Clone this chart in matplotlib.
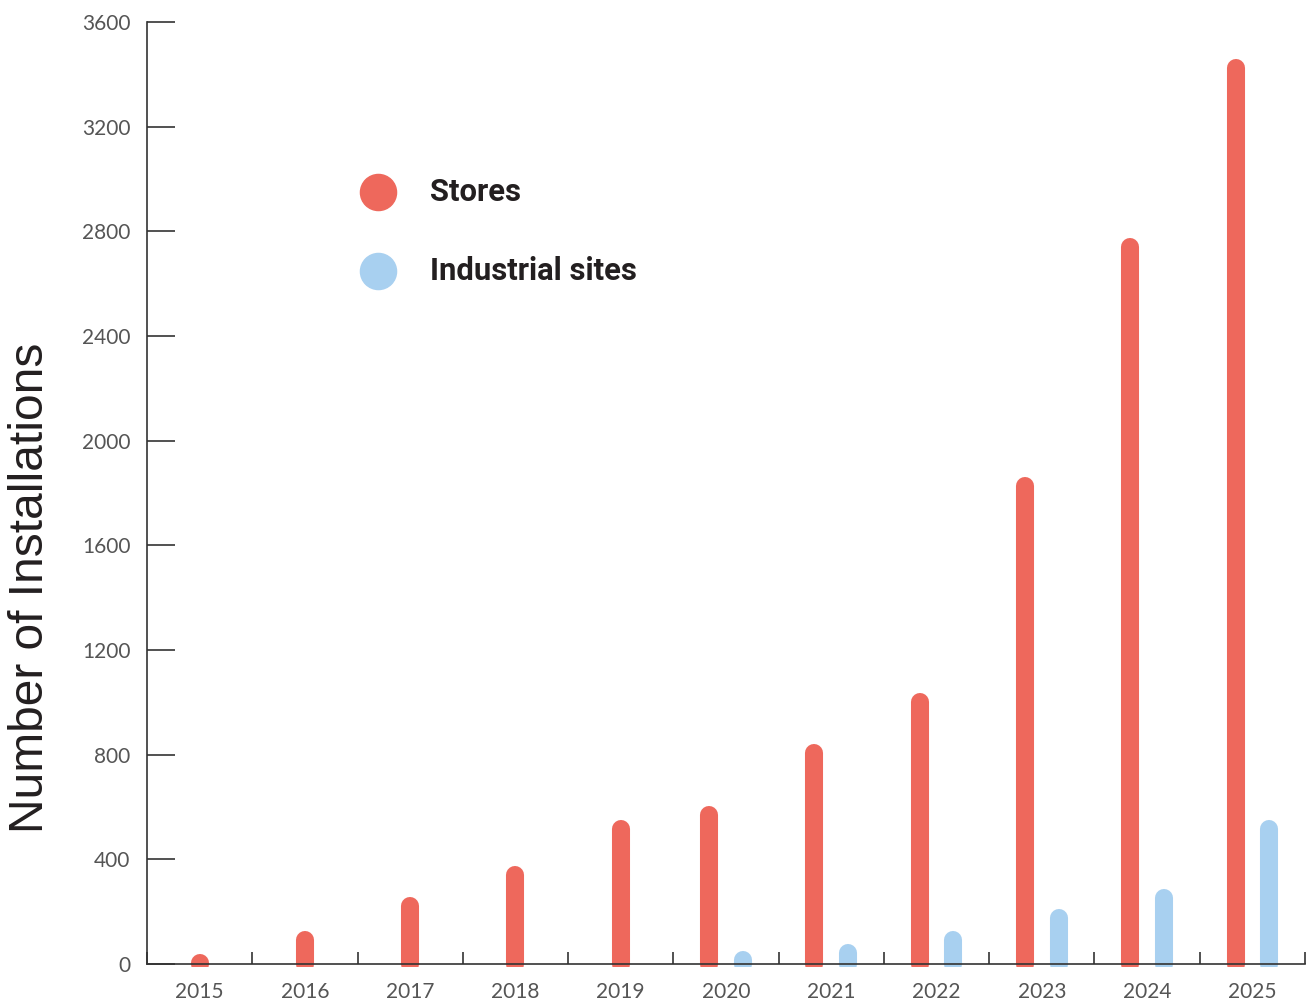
import numpy as np
import matplotlib.pyplot as plt
from matplotlib.ticker import MultipleLocator, FixedLocator

years = ["2015", "2016", "2017", "2018", "2019", "2020",
         "2021", "2022", "2023", "2024", "2025"]
stores = [5, 90, 220, 340, 515, 570, 805, 1000, 1825, 2740, 3425]
industrial = [0, 0, 0, 0, 0, 15, 40, 90, 175, 250, 515]

series_names = ["Stores", "Industrial sites"]
red = "#ee685c"
blue = "#a8d0f0"

fig = plt.figure(figsize=(13.1, 10), dpi=100)
ax = fig.add_axes([0.1122, 0.033, 0.884, 0.945])

x = np.arange(len(years))
offset = 0.16
bar_w = 13  # points

# rounded bars: stores centred unless the year also has industrial sites
for i, (s, ind) in enumerate(zip(stores, industrial)):
    if ind > 0:
        xs, xi = x[i] - offset, x[i] + offset
        ax.plot([xi, xi], [0, ind], color=blue, lw=bar_w,
                solid_capstyle="round", zorder=2)
    else:
        xs = x[i]
    ax.plot([xs, xs], [0, s], color=red, lw=bar_w,
            solid_capstyle="round", zorder=2)

ax.set_xlim(-0.5, len(years) - 0.5)
ax.set_ylim(-12, 3600)

for side in ["top", "right"]:
    ax.spines[side].set_visible(False)
ax.spines["bottom"].set_position(("data", 0))
ax.spines["left"].set_bounds(0, 3600)
for side in ["left", "bottom"]:
    ax.spines[side].set_linewidth(1.2)
    ax.spines[side].set_color("#333333")
    ax.spines[side].set_zorder(3)

ax.yaxis.set_major_locator(MultipleLocator(400))
ax.tick_params(axis="y", direction="in", length=20, width=1.2,
               color="#333333", pad=12, labelsize=15, labelcolor="#555555")

ax.set_xticks(x)
ax.set_xticklabels(years)
ax.xaxis.set_minor_locator(FixedLocator(np.arange(-0.5, len(years), 1.0)))
ax.tick_params(axis="x", which="major", length=0, pad=13,
               labelsize=15, labelcolor="#555555")
ax.tick_params(axis="x", which="minor", direction="in", length=9,
               width=1.2, color="#333333")

for lab in ax.get_xticklabels() + ax.get_yticklabels():
    lab.set_fontfamily("Lato")

fig.text(31 / 1310, 1 - 588 / 1000, "Number of Installations",
         rotation=90, ha="center", va="center", fontsize=34.5,
         family="Liberation Sans", color="#231f20")

# legend drawn by hand
for k, (name, col) in enumerate(zip(series_names, [red, blue])):
    yy = 1 - (192 + 79 * k) / 1000
    ax.plot([378 / 1310], [yy], marker="o", ms=26, color=col, ls="",
            transform=fig.transFigure, clip_on=False)
    fig.text(430 / 1310, yy, name, ha="left", va="center", fontsize=22.3,
             family="Roboto", weight="bold", color="#231f20")

fig.savefig("out.png", dpi=100)
